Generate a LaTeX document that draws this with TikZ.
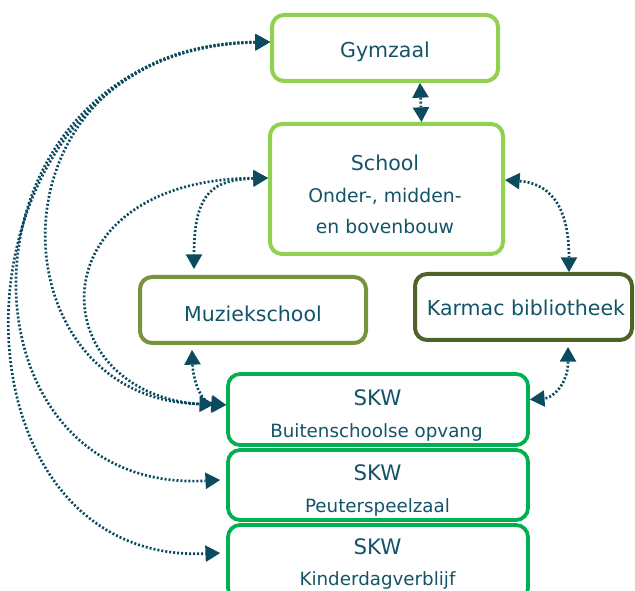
\documentclass[tikz,border=0pt]{standalone}
\usepackage{fontspec}
\setmainfont{DejaVu Sans}
\usetikzlibrary{arrows.meta}
\definecolor{txt}{HTML}{145469}
\definecolor{arr}{HTML}{0B4B5F}
\definecolor{lgreen}{HTML}{92D050}
\definecolor{olive}{HTML}{77933C}
\definecolor{dolive}{HTML}{4F6228}
\definecolor{skw}{HTML}{00B050}
\begin{document}
\begin{tikzpicture}[x=0.75pt,y=-0.75pt,
  box/.style={draw, rounded corners=9pt, line width=3pt, fill=white, inner sep=0pt},
  skwbox/.style={box, draw=skw, line width=2.8pt, minimum width=225pt},
  lbl/.style={anchor=base, text=txt, inner sep=0pt, font=\fontsize{15.4}{18}\selectfont},
  skwt/.style={lbl, font=\fontsize{16}{19}\selectfont},
  sub/.style={lbl, font=\fontsize{13.7}{16}\selectfont},
  schsub/.style={lbl, font=\fontsize{14.1}{17}\selectfont},
  conn/.style={draw=arr, line width=2pt, dash pattern=on 1.5pt off 1.5pt,
    {Triangle[length=11pt,width=12.5pt,line width=0pt]}-{Triangle[length=11pt,width=12.5pt,line width=0pt]}}
]
\useasboundingbox (0,0) rectangle (635,591);

% boxes
\node[box, draw=lgreen, minimum width=169.5pt, minimum height=49.5pt] (gym) at (385,48) {};
\node[box, draw=lgreen, minimum width=174.75pt, minimum height=97.5pt] (sch) at (386.5,189) {};
\node[box, draw=olive, minimum width=169.5pt, minimum height=49.5pt] (muz) at (253,310) {};
\node[box, draw=dolive, minimum width=162.75pt, minimum height=49.5pt] (kar) at (523.5,307) {};
\node[skwbox, minimum height=53.25pt] (bso) at (378,409.5) {};
\node[skwbox, minimum height=52.5pt] (peu) at (378,485) {};
\node[skwbox, minimum height=56.25pt] (kdv) at (378,562.5) {};

% texts
\node[lbl] (gymT) at (385,58) {Gymzaal};
\node[lbl] (schT1) at (385,171) {School};
\node[schsub] (schT2) at (385,203) {Onder-, midden-};
\node[schsub] (schT3) at (385,234) {en bovenbouw};
\node[lbl] (muzT) at (253,322) {Muziekschool};
\node[lbl] (karT) at (526,316) {Karmac bibliotheek};
\node[skwt] (bsoT1) at (377.5,405) {SKW};
\node[sub] (bsoT2) at (376.5,437) {Buitenschoolse opvang};
\node[skwt] (peuT1) at (377.5,480) {SKW};
\node[sub] (peuT2) at (377.5,512) {Peuterspeelzaal};
\node[skwt] (kdvT1) at (377.5,554) {SKW};
\node[sub] (kdvT2) at (377.5,585) {Kinderdagverblijf};

% connectors
\draw[conn] ([xshift=26.25pt]gym.south) -- ([xshift=26.25pt]sch.north);
\draw[conn] ([yshift=8.25pt]sch.west) .. controls (215,180) and (194,190) .. ([xshift=-44.25pt,yshift=4.5pt]muz.north);
\draw[conn] ([yshift=6.75pt]sch.east) .. controls (545,183) and (569,200) .. ([xshift=34.1pt]kar.north);
\draw[conn] ([xshift=33.4pt,yshift=-3.75pt]kar.south) .. controls (568,385) and (552,398) .. ([yshift=7.5pt]bso.east);
\draw[conn] ([xshift=-45.75pt,yshift=-3.75pt]muz.south) .. controls (193,378) and (200,402) .. ([yshift=3.4pt]bso.west);
\draw[conn] ([yshift=8.25pt]sch.west) .. controls (30,180) and (40,402) .. ([yshift=3.4pt]bso.west);
\draw[conn] ([yshift=4.5pt]gym.west) .. controls (-20,45) and (-10,400) .. ([xshift=-9pt,yshift=4pt]bso.west);
\draw[conn] ([yshift=4.5pt]gym.west) .. controls (-55,50) and (-55,495) .. ([xshift=-4.5pt,yshift=3.75pt]peu.west);
\draw[conn] ([yshift=4.5pt]gym.west) .. controls (-60,45) and (-70,565) .. ([xshift=-4.5pt,yshift=7.1pt]kdv.west);
\end{tikzpicture}
\end{document}
